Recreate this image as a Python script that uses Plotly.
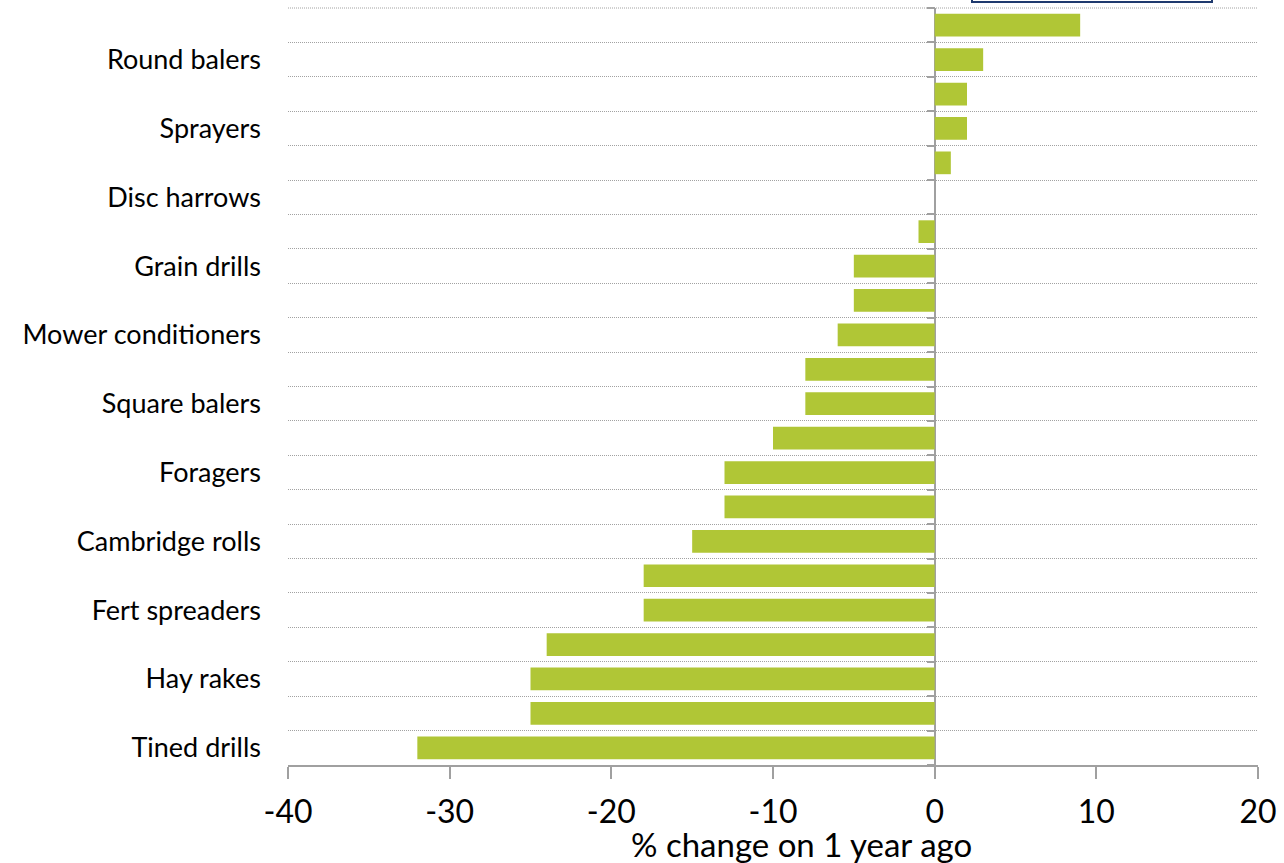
import plotly.graph_objects as go

# Rows listed bottom to top; blank names are rows left unlabelled on the axis
row_labels = [
    "Tined drills", "", "Hay rakes", "", "Fert spreaders", "",
    "Cambridge rolls", "", "Foragers", "", "Square balers", "",
    "Mower conditioners", "", "Grain drills", "", "Disc harrows", "",
    "Sprayers", "", "Round balers", "",
]
pct_change = [
    -32, -25, -25, -24, -18, -18, -15, -13, -13, -10, -8,
    -8, -6, -5, -5, -1, 0, 1, 2, 2, 3, 9,
]
x_ticks = [-40, -30, -20, -10, 0, 10, 20]
x_title = "% change on 1 year ago"

n = len(row_labels)
rows = list(range(n))
label_pos = [i for i, s in enumerate(row_labels) if s]
label_txt = [row_labels[i] for i in label_pos]
boundaries = [i - 0.5 for i in range(n + 1)]

FONT = "Lato"
GREY = "#A0A0A0"
GRID = "#A2A2A2"
BAR = "#B0C636"

fig = go.Figure()
fig.add_trace(go.Bar(
    x=pct_change, y=rows, orientation="h", width=0.66,
    marker=dict(color=BAR, line=dict(width=0)),
    showlegend=False, hoverinfo="x",
))
# empty trace so the category-boundary ticks at zero are drawn
fig.add_trace(go.Scatter(x=[None], y=[None], yaxis="y2", showlegend=False,
                         hoverinfo="skip", mode="markers"))

fig.update_layout(
    width=1284, height=863,
    margin=dict(l=288, r=26, t=8, b=98),
    paper_bgcolor="white", plot_bgcolor="white",
    font=dict(family=FONT, color="black"),
    bargap=0.34,
    xaxis=dict(
        range=[-40, 20], tickvals=x_ticks, ticktext=[str(v) for v in x_ticks],
        ticks="outside", ticklen=12, tickwidth=2, tickcolor=GREY,
        showline=True, linecolor=GREY, linewidth=2,
        showgrid=False, zeroline=True, zerolinecolor=GREY, zerolinewidth=2,
        tickfont=dict(size=32, family=FONT, color="black"),
        ticklabelstandoff=6,
    ),
    yaxis=dict(
        range=[-0.5, n - 0.5], tickvals=label_pos, ticktext=label_txt,
        showgrid=False, zeroline=False, showline=False, ticks="",
        tickfont=dict(size=27, family=FONT, color="black"),
        ticklabelstandoff=26,
    ),
    yaxis2=dict(
        overlaying="y", anchor="free", position=2 / 3,
        range=[-0.5, n - 0.5], tickvals=boundaries,
        showticklabels=False, ticks="outside", ticklen=8, tickwidth=2,
        tickcolor=GREY, showline=False,
        showgrid=True, gridcolor=GRID, gridwidth=1, griddash="1px,1px",
        zeroline=False,
    ),
    annotations=[dict(
        text=x_title, xref="paper", yref="paper",
        x=(801.5 - 288) / 970, y=-79 / 757, xanchor="center", yanchor="middle",
        showarrow=False, font=dict(size=33, family=FONT, color="black"),
    )],
    shapes=[
        # dotted rule along the top edge of the plot area
        dict(type="line", xref="paper", yref="paper", x0=0, x1=1, y0=1, y1=1,
             line=dict(color=GRID, width=1, dash="1px,1px"), layer="below"),
        # lower edge of the key box sitting above the plot
        dict(type="rect", xref="paper", yref="paper",
             x0=(972 - 288) / 970, x1=(1212 - 288) / 970,
             y0=(765 - 2) / 757, y1=1.2,
             line=dict(color="#1F3A6E", width=2), fillcolor="rgba(0,0,0,0)"),
    ],
)

fig.write_html("out.html")
